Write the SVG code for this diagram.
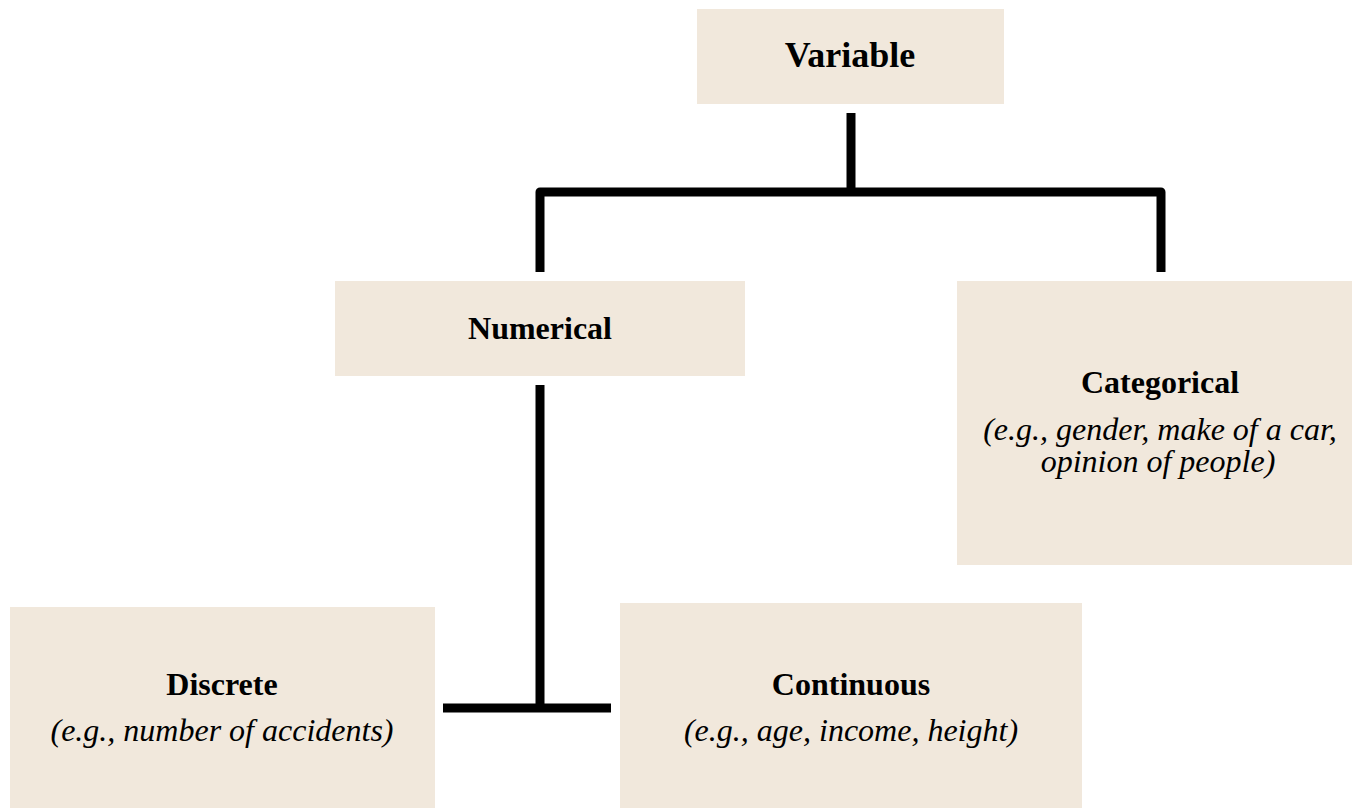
<svg xmlns="http://www.w3.org/2000/svg" width="1352" height="808" viewBox="0 0 1352 808">
<style>
.box{fill:#F1E8DC;}
.t{font-family:"Liberation Serif","Times New Roman",serif;fill:#000;text-anchor:middle;}
.b{font-weight:bold;font-size:32px;}
.big{font-size:36px;}
.i{font-style:italic;font-size:32px;}
.ln{fill:none;stroke:#000;stroke-width:9;stroke-linejoin:round;}
</style>
<rect width="1352" height="808" fill="#fff"/>
<g id="connectors">
<path class="ln" d="M851,113 V192"/>
<path class="ln" d="M540,272 V192 H1161 V272"/>
<path class="ln" d="M540,385 V708"/>
<path class="ln" d="M443,708 H611"/>
</g>
<g id="variable">
<rect class="box" x="697" y="9" width="307" height="95"/>
<text class="t b big" x="850" y="67">Variable</text>
</g>
<g id="numerical">
<rect class="box" x="335" y="281" width="410" height="95"/>
<text class="t b" x="540" y="339">Numerical</text>
</g>
<g id="categorical">
<rect class="box" x="957" y="281" width="395" height="284"/>
<text class="t b" x="1160" y="393">Categorical</text>
<text class="t i"><tspan x="1160" y="440">(e.g., gender, make of a car,</tspan><tspan x="1158" y="472">opinion of people)</tspan></text>
</g>
<g id="discrete">
<rect class="box" x="10" y="607" width="425" height="201"/>
<text class="t b" x="222" y="695">Discrete</text>
<text class="t i" x="222" y="741">(e.g., number of accidents)</text>
</g>
<g id="continuous">
<rect class="box" x="620" y="603" width="462" height="205"/>
<text class="t b" x="851" y="695">Continuous</text>
<text class="t i" x="851" y="741">(e.g., age, income, height)</text>
</g>
</svg>
